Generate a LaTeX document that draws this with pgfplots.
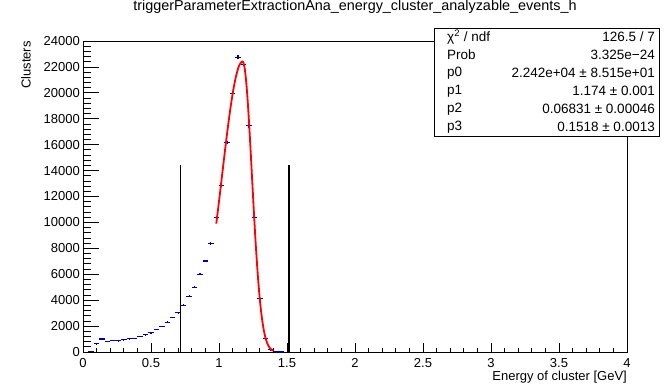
\documentclass[border=0pt]{standalone}
\usepackage{fontspec}
\setmainfont{Liberation Sans}
\usepackage{pgfplots}
\pgfplotsset{compat=1.18}
\usepackage{pgfplotstable}
\definecolor{rootblue}{RGB}{0,0,153}
\pgfplotstableread{
x y
0.06 60
0.10 640
0.14 1000
0.18 830
0.22 900
0.26 860
0.30 950
0.34 1030
0.38 1060
0.42 1230
0.46 1340
0.50 1480
0.54 1750
0.58 2000
0.62 2310
0.66 2680
0.70 3040
0.74 3620
0.78 4300
0.82 4990
0.86 6000
0.90 7020
0.94 8360
0.98 10370
1.02 12840
1.06 16190
1.10 19970
1.14 22750
1.18 22210
1.22 17450
1.26 10370
1.30 4150
1.34 1070
1.38 180
1.42 10
1.46 2
}\histdata
\pgfplotstableread{
x y
0.98 9908
1.00 11623
1.02 13401
1.04 15187
1.06 16912
1.08 18510
1.10 19909
1.12 21046
1.14 21864
1.15 22141
1.16 22325
1.17 22412
1.174 22420
1.18 22333
1.19 21813
1.20 20853
1.21 19512
1.22 17871
1.23 16021
1.24 14057
1.25 12073
1.26 10149
1.27 8351
1.28 6726
1.29 5302
1.30 4092
1.31 3090
1.32 2285
1.33 1653
1.34 1170
1.35 811
1.36 550
1.37 365
1.38 238
1.39 151
1.40 94
}\fitdata
\begin{document}
\begin{tikzpicture}
\useasboundingbox (-83pt,-32pt) rectangle (589pt,352pt);
\begin{axis}[
  at={(0pt,0pt)}, anchor=south west,
  scale only axis, width=544pt, height=311pt,
  xmin=0, xmax=4, ymin=0, ymax=24000,
  xtick={0,0.5,...,4}, ytick={0,2000,...,24000},
  minor x tick num=4, minor y tick num=4,
  tick align=inside, xtick pos=lower, ytick pos=left,
  every major x tick/.style={/pgfplots/major tick length=9pt},
  every minor x tick/.style={/pgfplots/minor tick length=4.5pt},
  every major y tick/.style={/pgfplots/major tick length=16pt},
  every minor y tick/.style={/pgfplots/minor tick length=8pt},
  tick style={black, line width=0.8pt},
  axis line style={line width=0.8pt},
  scaled y ticks=false, scaled x ticks=false,
  /pgf/number format/assume math mode=true,
  /pgf/number format/1000 sep={},
  tick label style={font=\fontsize{13}{13}\selectfont},
  xticklabel style={inner sep=0pt, anchor=north, yshift=-6pt},
  yticklabel style={inner sep=0pt, anchor=east, xshift=-3pt},
  title={triggerParameterExtractionAna\_energy\_cluster\_analyzable\_events\_h},
  title style={font=\fontsize{14.4}{14.4}\selectfont, at={(axis description cs:0.5,1)}, anchor=center, yshift=28pt, inner sep=0pt},
  xlabel={Energy of cluster [GeV]},
  xlabel style={font=\fontsize{13}{13}\selectfont, at={(axis description cs:1,0)}, anchor=east, yshift=-25pt, inner sep=0pt},
  ylabel={Clusters},
  ylabel style={font=\fontsize{13}{13}\selectfont, at={(axis description cs:-0.1048,1)}, anchor=east, rotate=0, inner sep=0pt},
  clip=false,
]
\addplot[draw=none, mark=none,
  error bars/.cd, x dir=both, x fixed=0.02, y dir=both, y explicit,
  error mark=none, error bar style={draw=rootblue, line width=1.1pt}]
  table[x=x, y=y, y error expr={sqrt(\thisrow{y})}] {\histdata};
\addplot[red, line width=1.8pt, smooth, mark=none] table[x=x, y=y] {\fitdata};
\addplot[black, line width=1.3pt, mark=none] coordinates {(0.717,0) (0.717,14450)};
\addplot[black, line width=1.3pt, mark=none] coordinates {(1.515,0) (1.515,14450)};
\end{axis}
\draw[fill=white, line width=0.8pt] (351.5pt,216pt) rectangle (576pt,324pt);
\begin{scope}[every node/.style={font=\fontsize{13.5}{13.5}\selectfont, inner sep=0pt}]
\node[anchor=west] at (364pt,315pt) {χ\textsuperscript{2} / ndf};
\node[anchor=east] at (572pt,315pt) {126.5 / 7};
\node[anchor=west] at (364pt,297pt) {Prob};
\node[anchor=east] at (572pt,297pt) {3.325e−24};
\node[anchor=west] at (364pt,279pt) {p0};
\node[anchor=east] at (572pt,279pt) {2.242e+04 ± 8.515e+01};
\node[anchor=west] at (364pt,261pt) {p1};
\node[anchor=east] at (572pt,261pt) {1.174 ± 0.001};
\node[anchor=west] at (364pt,243pt) {p2};
\node[anchor=east] at (572pt,243pt) {0.06831 ± 0.00046};
\node[anchor=west] at (364pt,225pt) {p3};
\node[anchor=east] at (572pt,225pt) {0.1518 ± 0.0013};
\end{scope}
\end{tikzpicture}
\end{document}
